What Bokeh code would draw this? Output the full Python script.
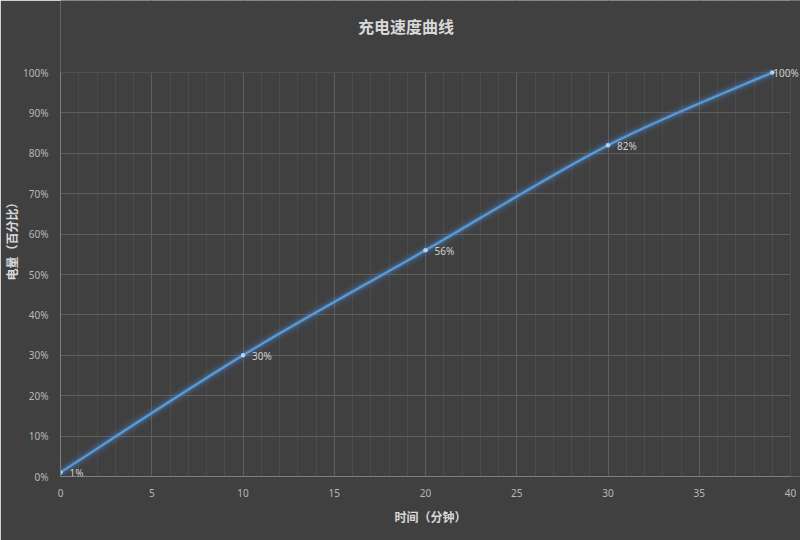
from bokeh.plotting import figure
from bokeh.models import (SingleIntervalTicker, PrintfTickFormatter, Range1d, ColumnDataSource,
                          LabelSet, Label, BoxAnnotation)
from bokeh.core.properties import value
from bokeh.embed import file_html
from bokeh.resources import INLINE

# ---- data ----
minutes = [0, 10, 20, 30, 39]
charge = [1, 30, 56, 82, 100]
labels = ["1%", "30%", "56%", "82%", "100%"]
title_text = "充电速度曲线"
x_title = "时间（分钟）"
y_title = "电量（百分比）"
x_max, y_max = 40, 100

BG = "#404040"
LINE = "#5b9bd5"
CJK = "Noto Sans CJK SC"
LAT = "Noto Sans"
W, H = 800, 540
# plot area inside the canvas (pixels)
LEFT, RIGHT, TOP, BOTTOM = 59, 10, 72, 64
TITLE_CX, TITLE_CY = W / 2 + 5, 25
# the frame covers the top and right margins too, so that texts there are not clipped
frame_w = W - LEFT
frame_h = H - BOTTOM
x_end = x_max * frame_w / (W - LEFT - RIGHT)
y_end = y_max * frame_h / (H - TOP - BOTTOM)

p = figure(width=W, height=H, output_backend="svg", toolbar_location=None,
           x_range=Range1d(0, x_end), y_range=Range1d(0, y_end),
           background_fill_color=BG, border_fill_color=BG,
           min_border_left=LEFT, min_border_right=0, min_border_top=0, min_border_bottom=BOTTOM)
p.title = None
p.outline_line_color = None

# axes
p.xaxis.ticker = SingleIntervalTicker(interval=5, num_minor_ticks=5)
p.yaxis.ticker = SingleIntervalTicker(interval=10, num_minor_ticks=0)
p.yaxis.formatter = PrintfTickFormatter(format="%d%%")
p.xaxis.bounds = (0, x_max)
p.yaxis.bounds = (0, y_max)
for ax in (p.xaxis[0], p.yaxis[0]):
    ax.major_tick_line_color = None
    ax.minor_tick_line_color = None
    ax.axis_line_color = "#7f7f7f"
    ax.axis_line_width = 1
    ax.major_label_text_font = LAT
    ax.major_label_text_font_size = "10px"
    ax.major_label_text_color = "#b8b8b8"
    ax.axis_label_text_font = CJK
    ax.axis_label_text_font_style = "bold"
    ax.axis_label_text_font_size = "12px"
    ax.axis_label_text_line_height = 1.0
    ax.axis_label_text_color = "#d9d9d9"
p.xaxis.axis_label = x_title
p.yaxis.axis_label = y_title
p.xaxis.major_label_standoff = 6
p.yaxis.major_label_standoff = 6
p.xaxis.axis_label_standoff = 8
p.yaxis.axis_label_standoff = 0

p.xgrid.grid_line_color = "#5e5e5e"
p.xgrid.minor_grid_line_color = "#4b4b4b"
p.xgrid.bounds = (0.5, x_max)   # the y axis line already marks x = 0
p.ygrid.grid_line_color = "#5e5e5e"

# hide the grid outside the plot area (top and right margins)
p.add_layout(BoxAnnotation(bottom=y_max, fill_color=BG, fill_alpha=1, line_color=None, level="underlay"))
p.add_layout(BoxAnnotation(left=x_max, fill_color=BG, fill_alpha=1, line_color=None, level="underlay"))

# title (anchored at the frame's top centre, shifted to the canvas position)
p.add_layout(Label(x=x_end / 2, y=y_end,
                   x_offset=TITLE_CX - (LEFT + frame_w / 2), y_offset=-TITLE_CY,
                   text=title_text, text_font=CJK, text_font_style="bold",
                   text_font_size="16px", text_color="#d9d9d9", text_align="center",
                   text_baseline="middle"))

# smooth curve (Bezier through data points)
n = len(minutes)
ext_x = [minutes[0]] + minutes + [minutes[-1]]
ext_y = [charge[0]] + charge + [charge[-1]]
x0, y0, x1, y1, cx0, cy0, cx1, cy1 = [], [], [], [], [], [], [], []
for i in range(n - 1):
    a, b = i + 1, i + 2
    x0.append(ext_x[a]); y0.append(ext_y[a])
    x1.append(ext_x[b]); y1.append(ext_y[b])
    cx0.append(ext_x[a] + (ext_x[b] - ext_x[a - 1]) / 6)
    cy0.append(ext_y[a] + (ext_y[b] - ext_y[a - 1]) / 6)
    cx1.append(ext_x[b] - (ext_x[b + 1] - ext_x[a]) / 6)
    cy1.append(ext_y[b] - (ext_y[b + 1] - ext_y[a]) / 6)
seg = ColumnDataSource(dict(x0=x0, y0=y0, x1=x1, y1=y1, cx0=cx0, cy0=cy0, cx1=cx1, cy1=cy1))

for w, a in ((14, 0.05), (10, 0.08), (7, 0.12), (4.5, 0.2)):
    p.bezier(x0="x0", y0="y0", x1="x1", y1="y1", cx0="cx0", cy0="cy0", cx1="cx1", cy1="cy1",
             source=seg, line_color="#4a90e0", line_width=w, line_alpha=a)
p.bezier(x0="x0", y0="y0", x1="x1", y1="y1", cx0="cx0", cy0="cy0", cx1="cx1", cy1="cy1",
         source=seg, line_color=LINE, line_width=2.2)

pts = ColumnDataSource(dict(x=minutes, y=charge, t=labels))
p.scatter("x", "y", source=pts, size=4.5, fill_color="#b4d2f0", line_color=None)

lab_main = ColumnDataSource(dict(x=minutes[:-1], y=charge[:-1], t=labels[:-1]))
p.add_layout(LabelSet(x="x", y="y", text="t", source=lab_main, x_offset=9, y_offset=-1,
                      text_font=value(LAT), text_font_size="10px", text_color="#cfcfcf",
                      text_baseline="middle", text_align="left"))
p.add_layout(Label(x=minutes[-1], y=charge[-1], text=labels[-1], x_offset=1, y_offset=0,
                   text_font=LAT, text_font_size="10px", text_color="#cfcfcf",
                   text_baseline="middle", text_align="left"))

open("out.html", "w").write(file_html(p, INLINE))
